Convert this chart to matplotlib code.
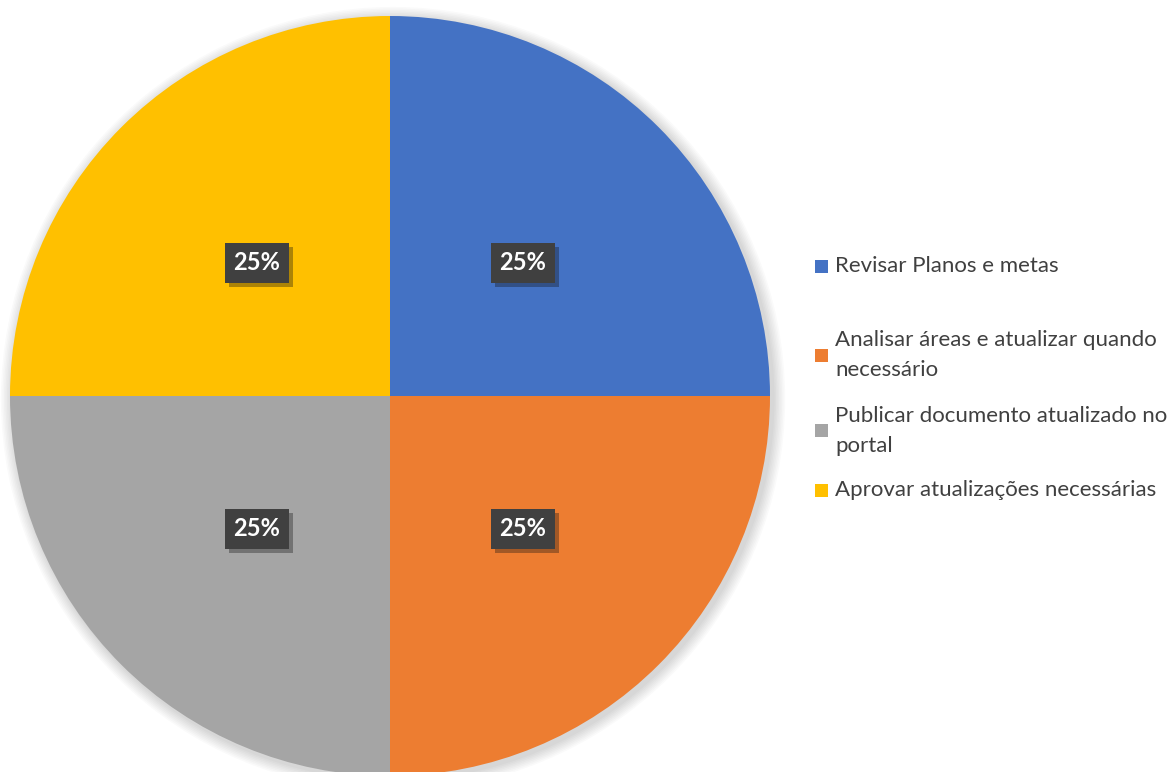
import matplotlib
matplotlib.use('Agg')
import numpy as np
import matplotlib.pyplot as plt
import matplotlib.patheffects as pe
from matplotlib.patches import Circle, Rectangle

categories = ['Revisar Planos e metas',
              'Analisar áreas e atualizar quando\nnecessário',
              'Publicar documento atualizado no\nportal',
              'Aprovar atualizações necessárias']
values = [25, 25, 25, 25]
colors = ['#4472C4', '#ED7D31', '#A5A5A5', '#FFC000']

plt.rcParams['font.family'] = ['Lato', 'DejaVu Sans']

fig = plt.figure(figsize=(11.7, 7.72), dpi=100)
ax = fig.add_axes([10 / 1170, (772 - 776) / 772, 760 / 1170, 760 / 772])

# soft shadow behind the pie
for i in range(8):
    ax.add_patch(Circle((0.008, -0.008), 1.0 + 0.004 * (8 - i), color='black',
                        alpha=0.018, lw=0, zorder=0, clip_on=False))

wedges, _ = ax.pie(values, colors=colors, startangle=90, counterclock=False,
                   radius=1.0, wedgeprops=dict(linewidth=0))
for w in wedges:
    w.set_zorder(1)
    w.set_clip_on(False)

# data labels
total = sum(values)
theta = 90.0
for v in values:
    span = 360.0 * v / total
    mid = np.deg2rad(theta - span / 2)
    theta -= span
    r = 0.5 * np.sqrt(2) * 0.70
    t = ax.text(r * np.cos(mid), r * np.sin(mid), f'{v / total:.0%}',
                ha='center', va='center', fontsize=17, fontweight='bold',
                color='white', zorder=3,
                bbox=dict(boxstyle='square,pad=0.35', fc='#404040', ec='none'))
    t.get_bbox_patch().set_path_effects(
        [pe.SimplePatchShadow(offset=(3, -3), alpha=0.35), pe.Normal()])

ax.set_xlim(-1, 1)
ax.set_ylim(-1, 1)
ax.set_aspect('equal')
ax.axis('off')

# legend
leg_y = [266, 355, 431, 490]
for w, label, yy in zip(wedges, categories, leg_y):
    fy = 1 - yy / 772
    fig.patches.append(Rectangle((815 / 1170, fy - 6.5 / 772), 13 / 1170, 13 / 772,
                                 transform=fig.transFigure, fc=w.get_facecolor(),
                                 ec='none'))
    fig.text(835 / 1170, fy, label, fontsize=16, color='#404040',
             va='center', ha='left', linespacing=1.6)

fig.savefig('out.png', dpi=100)
